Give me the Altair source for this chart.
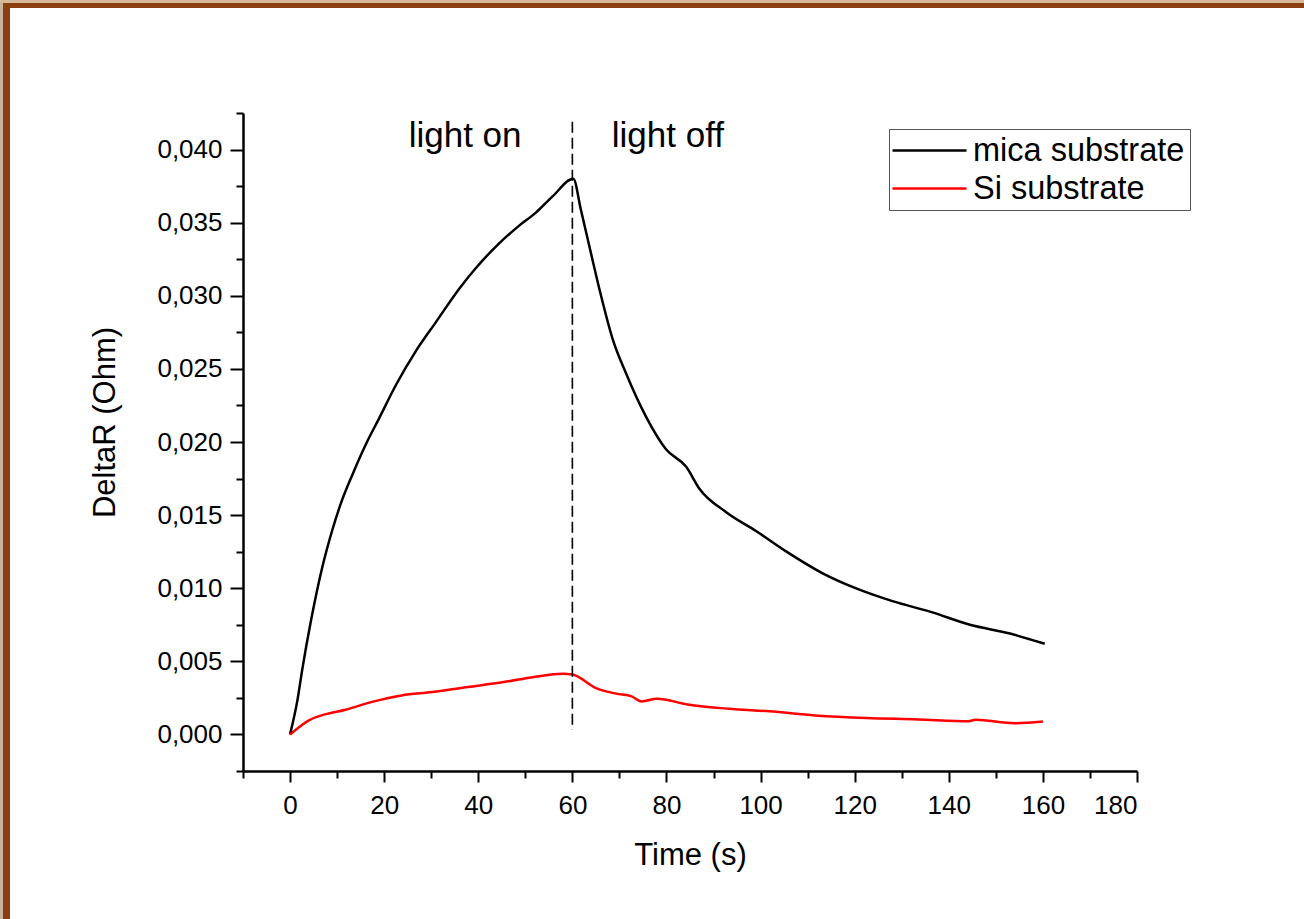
import altair as alt
import pandas as pd

# ---- data ----
series = ["mica substrate", "Si substrate"]
series_colors = ["#000000", "#ff0000"]

mica_t = [0, 1.6, 2.6, 4.4, 6.9, 9.0, 10.8, 13.3, 16.5, 18.9, 22.5, 26.7, 31.0, 36.0,
          39.5, 44.5, 48.7, 52.3, 55.8, 60.2, 61.8, 63.6, 66.1, 68.6, 71.4, 75.7,
          79.9, 84.2, 87.0, 92.7, 99.1, 105.5, 113.3, 121.0, 128.2, 136.0, 144.5,
          153.0, 160.4]
mica_v = [0.0000, 0.0024, 0.00445, 0.0077, 0.0115, 0.0140, 0.0158, 0.0178, 0.0201,
          0.0216, 0.0239, 0.0262, 0.0282, 0.0305, 0.0319, 0.0336, 0.0348, 0.0357,
          0.0368, 0.0380, 0.0359, 0.0334, 0.0300, 0.0270, 0.0247, 0.0217, 0.0195,
          0.0183, 0.0168, 0.0152, 0.0139, 0.0125, 0.0110, 0.0099, 0.0091, 0.0084,
          0.0075, 0.0069, 0.0062]

si_t = [0, 4.2, 7.4, 11.8, 17.2, 23.7, 30.2, 37.8, 45.4, 51.9, 57.9, 60.0, 65.0,
        69.3, 72.6, 74.7, 78.0, 84.5, 93.2, 101.9, 111.6, 122.5, 133.4, 144.2,
        145.7, 154.0, 160.0]
si_v = [0.0000, 0.0010, 0.00137, 0.00169, 0.00221, 0.00267, 0.0029, 0.00324, 0.00358,
        0.00393, 0.00415, 0.0041, 0.00317, 0.00279, 0.0026, 0.00226, 0.00244, 0.00205,
        0.00176, 0.00158, 0.0013, 0.00112, 0.00103, 0.00091, 0.0010, 0.00077, 0.00089]

x_major = [0, 20, 40, 60, 80, 100, 120, 140, 160, 180]
x_minor = [-10, 10, 30, 50, 70, 90, 110, 130, 150, 170]
y_major = [0.000, 0.005, 0.010, 0.015, 0.020, 0.025, 0.030, 0.035, 0.040]
y_minor = [-0.0025, 0.0025, 0.0075, 0.0125, 0.0175, 0.0225, 0.0275, 0.0325, 0.0375, 0.0425]

marker_t = [60]
marker_top = [0.0419]
marker_bottom = [0.0003]

notes = ["light on", "light off"]
note_t = [37.2, 80.3]
note_v = [0.0409, 0.0409]

x_domain = [-10, 180]
y_domain = [-0.0025, 0.0425]

# ---- tables ----
lines = pd.DataFrame(
    {"t": mica_t + si_t,
     "v": mica_v + si_v,
     "series": [series[0]] * len(mica_t) + [series[1]] * len(si_t),
     "order": list(range(len(mica_t))) + list(range(len(si_t)))}
)
marker = pd.DataFrame({"t": marker_t, "top": marker_top, "bottom": marker_bottom})
note_df = pd.DataFrame({"t": note_t, "v": note_v, "label": notes})
dummy = pd.DataFrame({"a": [0]})

FONT = "Liberation Sans"
xs = alt.Scale(domain=x_domain, nice=False, zero=False)
ys = alt.Scale(domain=y_domain, nice=False, zero=False)

common_axis = dict(domainColor="black", tickColor="black", grid=False,
                   labelFont=FONT, titleFont=FONT, labelColor="black",
                   titleColor="black", titleFontWeight="normal")

x_axis_major = alt.Axis(values=x_major, format="d", tickSize=11, tickWidth=2,
                        domainWidth=2.5, labelFontSize=26, labelPadding=10,
                        title="Time (s)", titleFontSize=31, titlePadding=22,
                        **common_axis)
y_axis_major = alt.Axis(values=y_major, orient="left",
                        labelExpr="replace(format(datum.value, '.3f'), '.', ',')",
                        tickSize=13, tickWidth=2, domainWidth=2.5,
                        labelFontSize=26, labelPadding=8,
                        title="DeltaR (Ohm)", titleFontSize=31,
                        titleX=-122, titleY=309, titleAngle=270,
                        titleAlign="center", titleBaseline="bottom",
                        **common_axis)
x_axis_minor = alt.Axis(values=x_minor, orient="bottom", tickSize=7, tickWidth=2,
                        labels=False, domain=False, title=None, grid=False,
                        tickColor="black")
y_axis_minor = alt.Axis(values=y_minor, orient="left", tickSize=7, tickWidth=2,
                        labels=False, domain=False, title=None, grid=False,
                        tickColor="black")

line_layer = alt.Chart(lines).mark_line(strokeWidth=2.5, interpolate="monotone").encode(
    x=alt.X("t:Q", scale=xs, axis=x_axis_major),
    y=alt.Y("v:Q", scale=ys, axis=y_axis_major),
    color=alt.Color("series:N",
                    scale=alt.Scale(domain=series, range=series_colors),
                    sort=series,
                    legend=alt.Legend(title=None, orient="none", legendX=646, legendY=16,
                                      strokeColor="#555555", padding=5,
                                      labelFont=FONT, labelFontSize=32.5,
                                      labelColor="black", labelLimit=500,
                                      symbolType="M-2.5,0H2.5", symbolSize=876,
                                      symbolStrokeWidth=2.5, symbolOffset=19,
                                      labelOffset=27,
                                      rowPadding=5, fillColor="white")),
    order="order:Q",
)

marker_layer = alt.Chart(marker).mark_rule(
    color="black", strokeWidth=1.6, strokeDash=[11, 5]
).encode(
    x=alt.X("t:Q", scale=xs, axis=x_axis_minor),
    y=alt.Y("top:Q", scale=ys, axis=y_axis_minor),
    y2="bottom:Q",
)

note_layer = alt.Chart(note_df).mark_text(
    font=FONT, fontSize=35, color="black", align="center", baseline="middle"
).encode(
    x=alt.X("t:Q", scale=xs, axis=None),
    y=alt.Y("v:Q", scale=ys, axis=None),
    text="label:N",
)

border_beige_left = alt.Chart(dummy).mark_rect(color="#c7b29c").encode(
    x=alt.value(-243), x2=alt.value(-240), y=alt.value(-113), y2=alt.value(806))
border_brown_left = alt.Chart(dummy).mark_rect(color="#8b3e10").encode(
    x=alt.value(-240), x2=alt.value(-233), y=alt.value(-110), y2=alt.value(806))
border_beige_top = alt.Chart(dummy).mark_rect(color="#d8b89a").encode(
    x=alt.value(-243), x2=alt.value(1061), y=alt.value(-113), y2=alt.value(-110))
border_brown_top = alt.Chart(dummy).mark_rect(color="#8b3e10").encode(
    x=alt.value(-240), x2=alt.value(1061), y=alt.value(-110), y2=alt.value(-105))

chart = alt.layer(
    border_beige_left, border_brown_left, border_beige_top, border_brown_top,
    line_layer, marker_layer, note_layer
).resolve_axis(x="independent", y="independent").resolve_scale(
    x="shared", y="shared"
).properties(
    width=894, height=658,
    padding={"left": 243, "top": 113, "right": 167, "bottom": 148},
    autosize=alt.AutoSizeParams(type="none"),
    background="white",
).configure_view(stroke=None)

chart.save("out.html", embed_options={"renderer": "svg", "actions": False})
